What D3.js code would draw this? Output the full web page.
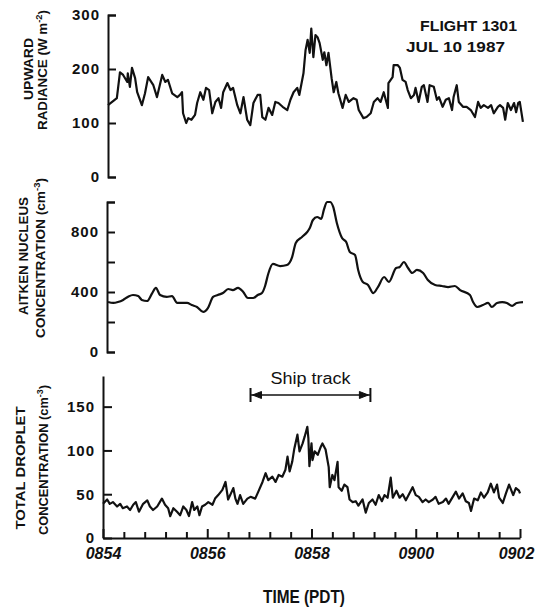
<!DOCTYPE html>
<html>
<head>
<meta charset="utf-8">
<script src="https://cdn.jsdelivr.net/npm/d3@7"></script>
<style>
  body { margin: 0; background: #fff; }
  svg { display: block; font-family: "Liberation Sans", Arial, sans-serif; }
  .axis path, .axis line { stroke: #111; stroke-width: 2; }
  .axis text { font-size: 15px; font-weight: bold; fill: #111; letter-spacing: 1px; }
  .xaxis text { font-size: 16px; font-style: italic; letter-spacing: 0; }
  .trace { fill: none; stroke: #111; stroke-width: 2.2; stroke-linejoin: round; }
  .lab { font-size: 13px; font-weight: bold; fill: #111; }
</style>
</head>
<body>
<svg id="chart" width="536" height="609"></svg>
<script>
// time = minutes after 08:54 PDT, [time, value]
const radiance = [[0.00,133],[0.17,146],[0.23,194],[0.29,189],[0.37,176],[0.38,192],[0.42,167],[0.46,202],[0.52,183],[0.56,157],[0.65,133],[0.71,155],[0.77,185],[0.87,170],[0.94,148],[1.04,189],[1.10,176],[1.15,180],[1.23,155],[1.33,148],[1.38,152],[1.42,157],[1.44,118],[1.50,100],[1.54,109],[1.60,106],[1.67,115],[1.71,137],[1.77,157],[1.83,143],[1.88,165],[1.94,161],[2.00,118],[2.06,139],[2.12,146],[2.17,128],[2.21,157],[2.29,174],[2.35,161],[2.40,165],[2.48,133],[2.54,118],[2.60,148],[2.67,106],[2.73,96],[2.79,137],[2.87,152],[2.92,152],[2.96,111],[3.02,106],[3.08,128],[3.15,115],[3.21,139],[3.27,137],[3.35,130],[3.44,124],[3.50,143],[3.56,157],[3.63,165],[3.67,152],[3.75,192],[3.79,235],[3.83,254],[3.87,230],[3.90,275],[3.94,222],[3.98,263],[4.02,259],[4.06,248],[4.12,217],[4.15,231],[4.19,207],[4.23,230],[4.29,183],[4.33,157],[4.38,176],[4.42,155],[4.50,128],[4.56,152],[4.62,139],[4.71,146],[4.77,143],[4.81,124],[4.90,109],[4.96,111],[5.04,118],[5.10,139],[5.17,146],[5.23,139],[5.29,157],[5.37,128],[5.38,174],[5.46,185],[5.48,207],[5.56,207],[5.60,202],[5.65,180],[5.71,176],[5.75,161],[5.81,146],[5.87,152],[5.90,165],[5.96,139],[6.02,167],[6.06,170],[6.13,139],[6.17,170],[6.25,167],[6.31,143],[6.35,148],[6.42,130],[6.48,143],[6.54,146],[6.60,124],[6.63,148],[6.69,170],[6.73,139],[6.81,130],[6.88,130],[6.96,124],[7.04,111],[7.10,139],[7.15,128],[7.21,133],[7.29,128],[7.35,133],[7.40,118],[7.48,130],[7.52,133],[7.58,128],[7.62,106],[7.67,137],[7.73,124],[7.79,137],[7.83,120],[7.87,137],[7.90,139],[7.96,102]];

const aitken = [[0.02,333],[0.12,327],[0.21,333],[0.31,347],[0.40,367],[0.50,380],[0.60,373],[0.67,347],[0.77,340],[0.87,393],[0.94,427],[1.02,380],[1.15,367],[1.25,373],[1.35,327],[1.44,327],[1.54,327],[1.63,313],[1.73,300],[1.85,267],[1.94,293],[2.04,367],[2.13,380],[2.23,393],[2.33,420],[2.42,413],[2.52,427],[2.62,400],[2.71,360],[2.81,360],[2.90,380],[2.98,393],[3.04,440],[3.10,520],[3.19,587],[3.33,573],[3.46,580],[3.56,633],[3.63,727],[3.75,767],[3.85,800],[3.90,827],[3.96,880],[4.04,900],[4.12,887],[4.17,947],[4.23,1000],[4.29,1000],[4.35,967],[4.42,860],[4.52,760],[4.60,733],[4.67,667],[4.77,647],[4.83,547],[4.92,467],[5.02,447],[5.12,393],[5.21,433],[5.33,500],[5.42,467],[5.56,560],[5.63,567],[5.71,600],[5.79,560],[5.87,527],[5.96,547],[6.08,527],[6.17,480],[6.31,447],[6.44,440],[6.56,433],[6.69,440],[6.79,413],[6.98,380],[7.04,333],[7.12,300],[7.23,313],[7.33,327],[7.40,300],[7.50,327],[7.60,333],[7.69,327],[7.79,307],[7.88,327],[8.00,333]];

const droplets = [[0.00,39],[0.08,44],[0.13,39],[0.19,41],[0.27,36],[0.33,39],[0.38,34],[0.46,36],[0.52,32],[0.58,38],[0.63,41],[0.69,30],[0.77,39],[0.85,43],[0.90,36],[0.96,32],[1.04,36],[1.13,45],[1.19,38],[1.25,34],[1.29,25],[1.35,34],[1.42,30],[1.48,26],[1.54,36],[1.60,32],[1.65,25],[1.71,41],[1.75,32],[1.81,36],[1.85,26],[1.90,36],[1.96,38],[2.02,41],[2.10,38],[2.15,45],[2.21,49],[2.29,55],[2.35,64],[2.40,44],[2.44,49],[2.50,57],[2.54,45],[2.58,39],[2.63,49],[2.69,39],[2.77,45],[2.83,47],[2.92,45],[2.98,53],[3.06,64],[3.12,74],[3.17,66],[3.25,70],[3.31,64],[3.37,72],[3.44,70],[3.50,78],[3.54,93],[3.58,76],[3.63,87],[3.67,102],[3.73,118],[3.77,99],[3.83,108],[3.87,116],[3.92,127],[3.94,114],[3.96,82],[4.00,108],[4.02,89],[4.06,99],[4.12,95],[4.17,103],[4.21,108],[4.27,101],[4.33,81],[4.35,58],[4.40,72],[4.44,66],[4.50,87],[4.52,58],[4.58,54],[4.63,61],[4.69,58],[4.73,44],[4.79,41],[4.85,42],[4.90,37],[4.98,44],[5.04,29],[5.10,40],[5.17,44],[5.23,38],[5.29,49],[5.35,42],[5.40,49],[5.46,46],[5.52,69],[5.56,46],[5.63,54],[5.69,46],[5.75,50],[5.81,43],[5.87,50],[5.94,58],[6.00,49],[6.06,47],[6.13,41],[6.19,44],[6.25,41],[6.33,44],[6.38,47],[6.44,39],[6.52,41],[6.58,45],[6.63,39],[6.71,47],[6.77,53],[6.83,45],[6.90,51],[6.96,42],[7.02,40],[7.06,31],[7.12,45],[7.19,43],[7.25,52],[7.31,46],[7.38,52],[7.44,62],[7.50,52],[7.56,61],[7.60,46],[7.67,40],[7.73,51],[7.79,61],[7.87,49],[7.92,57],[7.98,54],[8.00,51]];

const timeTicks = [0, 2, 4, 6, 8];
const timeLabels = ['0854', '0856', '0858', '0900', '0902'];
const shipTrack = [2.83, 5.13];

let svg = d3.select('#chart');

// the scan is slightly skewed, so each panel gets its own horizontal range
let xTop = d3.scaleLinear().domain([0, 8]).range([108, 525]);
let xMid = d3.scaleLinear().domain([0, 8]).range([107, 523]);
let xBot = d3.scaleLinear().domain([0, 8]).range([103, 520]);

let yTop = d3.scaleLinear().domain([0, 300]).range([177, 15]);
let yMid = d3.scaleLinear().domain([0, 1000]).range([352, 202]);
let yBot = d3.scaleLinear().domain([0, 185]).range([538, 376]);

// y axes, ticks pointing into the plot
svg.append('g')
    .attr('class', 'axis')
    .attr('transform', `translate(${xTop(0)},0)`)
    .call(d3.axisLeft(yTop).tickValues([0, 100, 200, 300])
      .tickSizeInner(-8).tickSizeOuter(-8).tickPadding(8));

svg.append('g')
    .attr('class', 'axis')
    .attr('transform', `translate(${xMid(0)},0)`)
    .call(d3.axisLeft(yMid).tickValues([0, 200, 400, 600, 800, 1000])
      .tickFormat((d) => d % 400 === 0 ? d : '')
      .tickSizeInner(-8).tickSizeOuter(-8).tickPadding(8));

svg.append('g')
    .attr('class', 'axis')
    .attr('transform', `translate(${xBot(0)},0)`)
    .call(d3.axisLeft(yBot).tickValues([0, 50, 100, 150])
      .tickSizeInner(-9).tickSizeOuter(0).tickPadding(8));

// time axis, minor ticks every 24 s
let xAxis = svg.append('g')
    .attr('class', 'axis xaxis')
    .attr('transform', `translate(0,${yBot(0)})`)
    .call(d3.axisBottom(xBot).tickValues(d3.range(21).map((i) => i * 2 / 5))
      .tickFormat((d) => {
        let i = timeTicks.indexOf(d);
        return i >= 0 ? timeLabels[i] : '';
      })
      .tickSizeInner(-6).tickSizeOuter(0).tickPadding(10));
xAxis.selectAll('.tick')
    .filter((d) => timeTicks.includes(d))
  .select('line')
    .attr('y2', -9);
// last label sits a little left so it stays inside the frame
xAxis.selectAll('.tick')
    .filter((d) => d === 8)
  .select('text')
    .attr('x', -4);

// traces
let lineTop = d3.line().x((d) => xTop(d[0])).y((d) => yTop(d[1]));
let lineMid = d3.line().x((d) => xMid(d[0])).y((d) => yMid(d[1])).curve(d3.curveMonotoneX);
let lineBot = d3.line().x((d) => xBot(d[0])).y((d) => yBot(d[1]));

svg.append('path').attr('class', 'trace').attr('d', lineTop(radiance));
svg.append('path').attr('class', 'trace').attr('d', lineMid(aitken));
svg.append('path').attr('class', 'trace').attr('d', lineBot(droplets));

// rotated axis titles, two lines each
function yTitle(cx, cy, parts, len) {
  let t = svg.append('text')
      .attr('class', 'lab')
      .attr('text-anchor', 'middle')
      .attr('transform', `translate(${cx},${cy}) rotate(-90)`)
      .attr('textLength', len)
      .attr('lengthAdjust', 'spacingAndGlyphs');
  parts.forEach((p) => {
    if (p.sup) {
      t.append('tspan').attr('dy', -5).style('font-size', '9px').text(p.t);
    } else {
      t.append('tspan').attr('dy', p.back ? 5 : 0).text(p.t);
    }
  });
}

yTitle(33, 69, [{ t: 'UPWARD' }], 62);
yTitle(47, 70, [{ t: 'RADIANCE (W m' }, { t: '-2', sup: true }, { t: ')', back: true }], 120);
yTitle(28, 256, [{ t: 'AITKEN NUCLEUS' }], 118);
yTitle(45, 258, [{ t: 'CONCENTRATION (cm' }, { t: '-3', sup: true }, { t: ')', back: true }], 160);
yTitle(25, 468, [{ t: 'TOTAL DROPLET' }], 123);
yTitle(48, 460, [{ t: 'CONCENTRATION (cm' }, { t: '-3', sup: true }, { t: ')', back: true }], 150);

svg.append('text')
    .attr('class', 'lab')
    .attr('x', 304)
    .attr('y', 603)
    .attr('text-anchor', 'middle')
    .attr('textLength', 82)
    .attr('lengthAdjust', 'spacingAndGlyphs')
    .style('font-size', '18px')
    .text('TIME (PDT)');

svg.append('text')
    .attr('class', 'lab')
    .attr('x', 420)
    .attr('y', 31)
    .attr('textLength', 97)
    .attr('lengthAdjust', 'spacingAndGlyphs')
    .style('font-size', '15px')
    .text('FLIGHT 1301');

svg.append('text')
    .attr('class', 'lab')
    .attr('x', 406)
    .attr('y', 52)
    .attr('textLength', 99)
    .attr('lengthAdjust', 'spacingAndGlyphs')
    .style('font-size', '15px')
    .text('JUL 10 1987');

// ship track marker
let sx0 = xBot(shipTrack[0]);
let sx1 = xBot(shipTrack[1]);
let sy = 395;
let ship = svg.append('g').attr('stroke', '#111').attr('fill', '#111');
ship.append('line').attr('x1', sx0).attr('x2', sx1).attr('y1', sy).attr('y2', sy).attr('stroke-width', 1.5);
ship.append('line').attr('x1', sx0).attr('x2', sx0).attr('y1', sy - 7).attr('y2', sy + 7).attr('stroke-width', 2);
ship.append('line').attr('x1', sx1).attr('x2', sx1).attr('y1', sy - 7).attr('y2', sy + 7).attr('stroke-width', 2);
ship.append('path').attr('d', `M${sx0 + 2},${sy} l9,-3.5 v7 z`);
ship.append('path').attr('d', `M${sx1 - 2},${sy} l-9,-3.5 v7 z`);

svg.append('text')
    .attr('x', (sx0 + sx1) / 2)
    .attr('y', 384)
    .attr('text-anchor', 'middle')
    .attr('textLength', 80)
    .attr('lengthAdjust', 'spacingAndGlyphs')
    .style('font-size', '16px')
    .style('fill', '#111')
    .text('Ship track');
</script>
</body>
</html>
